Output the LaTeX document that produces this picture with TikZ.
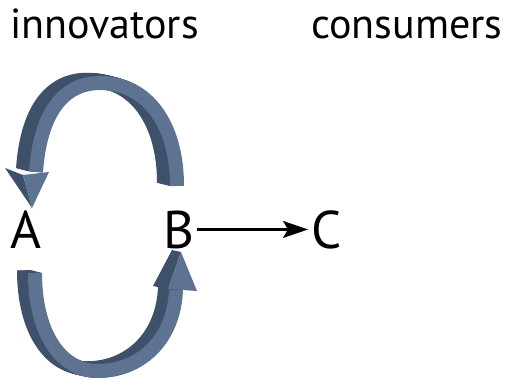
\documentclass[tikz,border=0pt]{standalone}
\usepackage{fontspec}
\setmainfont{PT Sans}
\usetikzlibrary{arrows.meta}
\definecolor{ribdark}{HTML}{3E506A}
\definecolor{riblight}{HTML}{5D7391}
\begin{document}
\begin{tikzpicture}[x=1pt,y=-1pt,
  lbl/.style={inner sep=0pt, anchor=base west, font=\fontsize{53}{53}\selectfont},
  hdr/.style={inner sep=0pt, anchor=base west, font=\fontsize{42}{42}\selectfont},
  ribbon/.style={line width=14pt},
  conn/.style={line width=2.2pt, shorten <=3pt, shorten >=3pt, -{Stealth[length=25pt,width=17pt,inset=5pt]}}]
\useasboundingbox (0,0) rectangle (506,384);
\def\toparc{(177,186) .. controls (177,125) and (148,83) .. (100,83) .. controls (62,83) and (40,115) .. (36,172)}
\def\botarc{(35,273) .. controls (35,332) and (60,371) .. (98,371) .. controls (140,371) and (174,340) .. (176,290)}
% top curved arrow
\foreach \s in {1,...,13} {\draw[ribdark, ribbon, shift={(-\s,-0.25*\s)}] \toparc;}
\draw[riblight, ribbon] \toparc;
\fill[ribdark] (5,168) -- (23,175) -- (32,208) -- cycle;
\fill[riblight] (23,175) -- (49,172) -- (32,208) -- cycle;
% bottom curved arrow
\foreach \s in {1,...,11} {\draw[ribdark, ribbon, shift={(-\s,-0.25*\s)}] \botarc;}
\draw[riblight, ribbon] \botarc;
\fill[ribdark] (153,286) -- (168,289) -- (181,252) -- (172,250) -- cycle;
\fill[riblight] (168,289) -- (197,291) -- (181,252) -- cycle;
% labels
\node[hdr] (inn) at (10,38) {innovators};
\node[hdr] (cons) at (311,38) {consumers};
\node[lbl] (A) at (10,248) {A};
\node[lbl] (B) at (163,248) {B};
\node[lbl] (C) at (311,248) {C};
\draw[conn] (B) -- (C);
\end{tikzpicture}
\end{document}
